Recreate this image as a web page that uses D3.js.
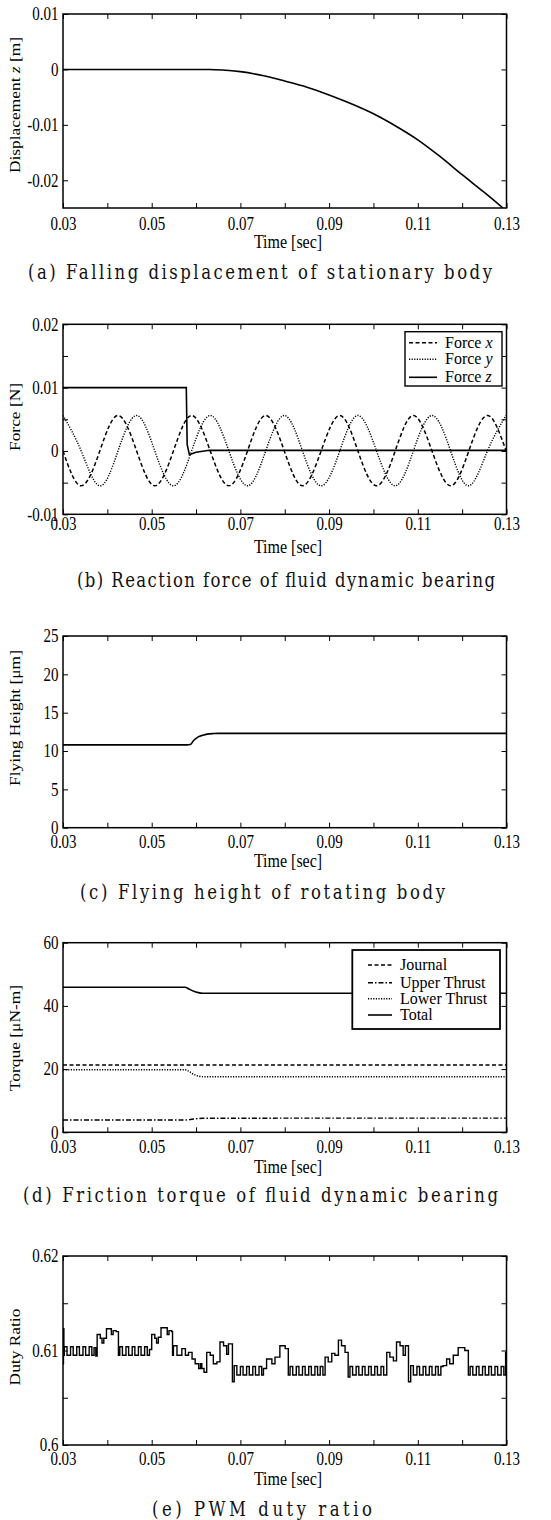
<!DOCTYPE html>
<html>
<head>
<meta charset="utf-8">
<script src="https://cdn.jsdelivr.net/npm/d3@7"></script>
<style>
  body { margin: 0; background: #fff; }
  svg { display: block; }
</style>
</head>
<body>
<div id="container"></div>
<script>
// Figure size and the vertical stretch the scanned figure shows on its text
const WIDTH = 551;
const HEIGHT = 1520;
const STRETCH = 1.2;
const SERIF = "'Liberation Serif', 'Times New Roman', serif";

// ---- Shared time axis ----
const xTicks = [0.03, 0.04, 0.05, 0.06, 0.07, 0.08, 0.09, 0.10, 0.11, 0.12, 0.13];
const xLabels = [0.03, 0.05, 0.07, 0.09, 0.11, 0.13];

// ---- (a) Falling displacement ----
const dispTime = [0.030, 0.040, 0.050, 0.060, 0.063, 0.066, 0.070, 0.075, 0.080, 0.085,
                  0.090, 0.095, 0.100, 0.105, 0.110, 0.115, 0.120, 0.125, 0.1292];
const dispZ = [0, 0, 0, 0, 0, -0.0001, -0.0004, -0.0011, -0.0021, -0.0032,
               -0.0046, -0.0062, -0.0080, -0.0102, -0.0127, -0.0157, -0.0190, -0.0222, -0.0250];
const dispTicks = [-0.02, -0.01, 0, 0.01];
const dispLabels = [-0.02, -0.01, 0, 0.01];

// ---- (b) Reaction force ----
const forceXTime = [0.0300, 0.0341, 0.0383, 0.0424, 0.0466, 0.0507, 0.0549, 0.0590, 0.0632,
                    0.0674, 0.0716, 0.0757, 0.0799, 0.0840, 0.0882, 0.0924, 0.0965, 0.1007,
                    0.1049, 0.1090, 0.1132, 0.1174, 0.1215, 0.1257, 0.1299];
const forceX = [0, -0.0055, 0, 0.0056, 0, -0.0055, 0, 0.0056, 0,
                -0.0055, 0, 0.0056, 0, -0.0055, 0, 0.0056, 0, -0.0055,
                0, 0.0056, 0, -0.0055, 0, 0.0056, 0];
const forceYTime = [0.0300, 0.0341, 0.0383, 0.0424, 0.0466, 0.0507, 0.0549, 0.0590, 0.0632,
                    0.0674, 0.0716, 0.0757, 0.0799, 0.0840, 0.0882, 0.0924, 0.0965, 0.1007,
                    0.1049, 0.1090, 0.1132, 0.1174, 0.1215, 0.1257, 0.1299];
const forceY = [0.0056, 0, -0.0055, 0, 0.0056, 0, -0.0055, 0, 0.0056,
                0, -0.0055, 0, 0.0056, 0, -0.0055, 0, 0.0056, 0,
                -0.0055, 0, 0.0056, 0, -0.0055, 0, 0.0056];
const forceZTime = [0.030, 0.0578, 0.0580, 0.0585, 0.0592, 0.0600, 0.0630, 0.130];
const forceZ = [0.0100, 0.0100, 0.0010, -0.0006, -0.0004, -0.0002, 0.0001, 0.0001];
const forceTicks = [-0.01, -0.005, 0, 0.005, 0.01, 0.015, 0.02];
const forceLabels = [-0.01, 0, 0.01, 0.02];
const forceNames = [['Force ', 'x'], ['Force ', 'y'], ['Force ', 'z']];

// ---- (c) Flying height ----
const heightTime = [0.030, 0.0580, 0.0587, 0.0595, 0.0605, 0.0615, 0.0625, 0.0640, 0.0650, 0.130];
const heightVal = [10.8, 10.8, 10.85, 11.4, 11.85, 12.05, 12.2, 12.28, 12.3, 12.3];
const heightTicks = [0, 5, 10, 15, 20, 25];

// ---- (d) Friction torque ----
const torqueTime = [0.030, 0.0575, 0.0585, 0.0595, 0.0605, 0.0615, 0.130];
const journal = [21.3, 21.3, 21.3, 21.3, 21.3, 21.3, 21.3];
const upperThrust = [3.9, 3.9, 4.0, 4.2, 4.35, 4.45, 4.5];
const lowerThrust = [19.8, 19.8, 19.2, 18.3, 17.8, 17.6, 17.6];
const totalTorque = [45.9, 45.9, 45.3, 44.6, 44.2, 44.0, 44.0];
const torqueTicks = [0, 20, 40, 60];
const torqueNames = [['Journal', ''], ['Upper Thrust', ''], ['Lower Thrust', ''], ['Total', '']];

// ---- (e) PWM duty ratio, [time, duty] steps ----
const pwmSteps = [
  [0.0300,0.6086],[0.0301,0.6123],[0.0302,0.6095],
  [0.0303,0.6104],[0.0309,0.6095],[0.0317,0.6104],[0.0323,0.6095],[0.0331,0.6104],[0.0337,0.6095],
  [0.0345,0.6104],[0.0351,0.6095],[0.0359,0.6104],[0.0365,0.6095],[0.0370,0.6103],[0.0374,0.6094],
  [0.0377,0.6117],[0.0384,0.6113],[0.0388,0.6108],[0.0392,0.6113],[0.0398,0.6123],[0.0409,0.6117],
  [0.0413,0.6121],[0.0420,0.6120],
  [0.0425,0.6095],[0.0428,0.6104],[0.0434,0.6095],[0.0442,0.6104],[0.0448,0.6095],[0.0456,0.6104],
  [0.0462,0.6095],[0.0470,0.6104],[0.0476,0.6095],[0.0484,0.6104],[0.0490,0.6095],[0.0495,0.6101],
  [0.0500,0.6117],[0.0507,0.6113],[0.0511,0.6108],[0.0515,0.6114],[0.0521,0.6124],[0.0535,0.6117],
  [0.0539,0.6121],[0.0545,0.6120],
  [0.0547,0.6095],[0.0549,0.6105],[0.0557,0.6095],[0.0568,0.6102],[0.0576,0.6095],[0.0583,0.6098],
  [0.0591,0.6091],[0.0598,0.6086],[0.0606,0.6081],[0.0610,0.6086],[0.0613,0.6081],[0.0618,0.6077],
  [0.0624,0.6098],[0.0632,0.6095],[0.0639,0.6086],[0.0647,0.6088],[0.0654,0.6109],[0.0662,0.6105],
  [0.0669,0.6096],[0.0673,0.6107],
  [0.0682,0.6067],[0.0686,0.6084],[0.0692,0.6074],[0.0700,0.6083],[0.0706,0.6074],[0.0714,0.6083],
  [0.0720,0.6074],[0.0728,0.6083],[0.0734,0.6074],[0.0742,0.6083],[0.0748,0.6074],
  [0.0752,0.6081],[0.0759,0.6091],[0.0771,0.6086],[0.0778,0.6093],[0.0789,0.6105],[0.0801,0.6102],
  [0.0808,0.6074],[0.0812,0.6083],[0.0818,0.6074],[0.0826,0.6083],[0.0832,0.6074],[0.0840,0.6083],
  [0.0846,0.6074],[0.0854,0.6083],[0.0860,0.6074],[0.0868,0.6083],[0.0874,0.6074],[0.0880,0.6083],
  [0.0886,0.6074],
  [0.0891,0.6093],[0.0898,0.6088],[0.0906,0.6097],[0.0913,0.6095],[0.0921,0.6111],[0.0928,0.6105],
  [0.0936,0.6098],
  [0.0943,0.6072],[0.0947,0.6083],[0.0953,0.6074],[0.0961,0.6083],[0.0967,0.6074],[0.0975,0.6083],
  [0.0981,0.6074],[0.0989,0.6083],[0.0995,0.6074],[0.1003,0.6083],[0.1009,0.6074],[0.1017,0.6083],
  [0.1023,0.6074],
  [0.1030,0.6098],[0.1037,0.6093],[0.1045,0.6089],[0.1052,0.6109],[0.1060,0.6105],[0.1067,0.6095],
  [0.1072,0.6105],
  [0.1079,0.6067],[0.1084,0.6084],[0.1090,0.6074],[0.1098,0.6083],[0.1104,0.6074],[0.1112,0.6083],
  [0.1118,0.6074],[0.1126,0.6083],[0.1132,0.6074],[0.1140,0.6083],[0.1146,0.6074],[0.1152,0.6083],
  [0.1157,0.6084],[0.1165,0.6091],[0.1172,0.6086],[0.1180,0.6095],[0.1191,0.6103],[0.1206,0.6100],
  [0.1214,0.6074],[0.1218,0.6083],[0.1224,0.6074],[0.1232,0.6083],[0.1238,0.6074],[0.1246,0.6083],
  [0.1252,0.6074],[0.1260,0.6083],[0.1266,0.6074],[0.1274,0.6083],[0.1280,0.6074],[0.1288,0.6083],
  [0.1294,0.6074],[0.1298,0.6098],[0.1300,0.6098]
];
const pwmTicks = [0.6, 0.605, 0.61, 0.615, 0.62];
const pwmLabels = [0.6, 0.61, 0.62];

const zip = (t, v) => t.map((d, i) => [d, v[i]]);

// Line styles
const SOLID = { dash: null, width: 1.6 };
const DASHED = { dash: '4,2.5', width: 1.5 };
const DOTTED = { dash: '1.2,1.4', width: 1.4 };
const DASHDOT = { dash: '5,2,1.5,2', width: 1.4 };

const panels = [
  { top: 14, bottom: 208, domain: [-0.025, 0.01], ticks: dispTicks, labels: dispLabels,
    xGap: 22, timeBase: 248, yTitle: [['Displacement ', ''], ['z', 'italic'], [' [m]', '']], yTitleY: 105,
    caption: '(a) Falling displacement of stationary body', cap: [28, 492, 279],
    series: [{ pts: zip(dispTime, dispZ), style: SOLID, curve: d3.curveMonotoneX }] },
  { top: 324.3, bottom: 514.3, domain: [-0.01, 0.02], ticks: forceTicks, labels: forceLabels,
    xGap: 16, timeBase: 553, yTitle: [['Force [N]', '']], yTitleY: 417,
    caption: '(b) Reaction force of fluid dynamic bearing', cap: [77, 495, 587],
    series: [
      { pts: zip(forceXTime, forceX), style: DASHED, curve: d3.curveNatural },
      { pts: zip(forceYTime, forceY), style: DOTTED, curve: d3.curveNatural },
      { pts: zip(forceZTime, forceZ), style: SOLID, curve: d3.curveLinear }],
    legend: { box: [405, 331.7, 502, 386], rows: [342.7, 359.3, 377.3], sample: [409, 437], textX: 445,
              names: forceNames, styles: [DASHED, DOTTED, SOLID], border: 1.4 } },
  { top: 636, bottom: 827.7, domain: [0, 25], ticks: heightTicks, labels: heightTicks,
    xGap: 20, timeBase: 866.5, yTitle: [['Flying Height [μm]', '']], yTitleY: 718,
    caption: '(c) Flying height of rotating body', cap: [80, 445, 899],
    series: [{ pts: zip(heightTime, heightVal), style: SOLID, curve: d3.curveMonotoneX }] },
  { top: 942.7, bottom: 1132.3, domain: [0, 60], ticks: torqueTicks, labels: torqueTicks,
    xGap: 21, timeBase: 1172.5, yTitle: [['Torque [μN-m]', '']], yTitleY: 1038,
    caption: '(d) Friction torque of fluid dynamic bearing', cap: [23, 498, 1202],
    series: [
      { pts: zip(torqueTime, journal), style: DASHED, curve: d3.curveMonotoneX },
      { pts: zip(torqueTime, upperThrust), style: DASHDOT, curve: d3.curveMonotoneX },
      { pts: zip(torqueTime, lowerThrust), style: DOTTED, curve: d3.curveMonotoneX },
      { pts: zip(torqueTime, totalTorque), style: SOLID, curve: d3.curveMonotoneX }],
    legend: { box: [352.3, 950, 500, 1029], rows: [965, 982.7, 998.7, 1015], sample: [368, 392], textX: 400,
              names: torqueNames, styles: [DASHED, DASHDOT, DOTTED, SOLID], border: 1.8 } },
  { top: 1256, bottom: 1445, domain: [0.6, 0.62], ticks: pwmTicks, labels: pwmLabels,
    xGap: 20, timeBase: 1485, yTitle: [['Duty Ratio', '']], yTitleY: 1347,
    caption: '(e) PWM duty ratio', cap: [152, 372, 1516],
    series: [{ pts: pwmSteps, style: { dash: null, width: 1.4 }, curve: d3.curveStepAfter }] }
];

const svg = d3.select('#container')
  .append('svg')
    .attr('width', WIDTH)
    .attr('height', HEIGHT);

const x = d3.scaleLinear().domain([0.03, 0.13]).range([63, 506.5]);

const TICK_FONT = 15;
const inList = (list, d) => list.some(v => Math.abs(v - d) < 1e-9);
const fmtTick = d => String(+d.toFixed(4));

function stretchTicks(g) {
  g.attr('font-family', SERIF).attr('font-size', TICK_FONT);
  g.select('.domain').remove();
  g.selectAll('.tick line').attr('stroke', '#000').attr('stroke-width', 1);
  g.selectAll('.tick text').each(function () {
    const t = d3.select(this);
    t.attr('y', (+t.attr('y') || 0) / STRETCH).attr('transform', `scale(1,${STRETCH})`);
  });
}

panels.forEach((p, idx) => {
  const y = d3.scaleLinear().domain(p.domain).range([p.bottom, p.top]);
  const g = svg.append('g');

  g.append('clipPath').attr('id', `clip${idx}`)
    .append('rect')
      .attr('x', x.range()[0]).attr('y', p.top)
      .attr('width', x.range()[1] - x.range()[0]).attr('height', p.bottom - p.top);

  // curves
  p.series.forEach(s => {
    g.append('path')
      .datum(s.pts)
      .attr('clip-path', `url(#clip${idx})`)
      .attr('fill', 'none')
      .attr('stroke', '#000')
      .attr('stroke-width', s.style.width)
      .attr('stroke-dasharray', s.style.dash)
      .attr('d', d3.line().x(d => x(d[0])).y(d => y(d[1])).curve(s.curve));
  });

  // axes, ticks pointing inward on all four sides
  g.append('g').attr('transform', `translate(0,${p.bottom})`)
    .call(d3.axisBottom(x).tickValues(xTicks).tickSizeInner(-5).tickSizeOuter(0)
      .tickPadding(p.xGap - 0.852 * TICK_FONT)
      .tickFormat(d => inList(xLabels, d) ? fmtTick(d) : ''))
    .call(stretchTicks);
  g.append('g').attr('transform', `translate(0,${p.top})`)
    .call(d3.axisTop(x).tickValues(xTicks).tickSizeInner(-5).tickSizeOuter(0).tickFormat(''))
    .call(stretchTicks);
  g.append('g').attr('transform', `translate(${x.range()[0]},0)`)
    .call(d3.axisLeft(y).tickValues(p.ticks).tickSizeInner(-5).tickSizeOuter(0).tickPadding(4.5)
      .tickFormat(d => inList(p.labels, d) ? fmtTick(d) : ''))
    .call(stretchTicks);
  g.append('g').attr('transform', `translate(${x.range()[1]},0)`)
    .call(d3.axisRight(y).tickValues(p.ticks).tickSizeInner(-5).tickSizeOuter(0).tickFormat(''))
    .call(stretchTicks);

  // frame
  g.append('rect')
    .attr('x', x.range()[0]).attr('y', p.top)
    .attr('width', x.range()[1] - x.range()[0]).attr('height', p.bottom - p.top)
    .attr('fill', 'none').attr('stroke', '#000').attr('stroke-width', 1.5);

  // y title
  const yt = g.append('text')
    .attr('transform', `translate(20,${p.yTitleY}) rotate(-90) scale(${STRETCH},1)`)
    .attr('text-anchor', 'middle')
    .attr('font-family', SERIF)
    .attr('font-size', 14.5)
    .attr('fill', '#000');
  p.yTitle.forEach(([txt, st]) => yt.append('tspan').attr('font-style', st || null).text(txt));

  // x title
  g.append('text')
    .attr('transform', `translate(288,${p.timeBase}) scale(1,${STRETCH})`)
    .attr('text-anchor', 'middle')
    .attr('font-family', SERIF)
    .attr('font-size', 16)
    .attr('fill', '#000')
    .text('Time [sec]');

  // legend
  if (p.legend) {
    const L = p.legend;
    g.append('rect')
      .attr('x', L.box[0]).attr('y', L.box[1])
      .attr('width', L.box[2] - L.box[0]).attr('height', L.box[3] - L.box[1])
      .attr('fill', '#fff').attr('stroke', '#000').attr('stroke-width', L.border);
    L.rows.forEach((ry, i) => {
      g.append('line')
        .attr('x1', L.sample[0]).attr('x2', L.sample[1])
        .attr('y1', ry).attr('y2', ry)
        .attr('stroke', '#000')
        .attr('stroke-width', L.styles[i].width)
        .attr('stroke-dasharray', L.styles[i].dash);
      const t = g.append('text')
        .attr('x', L.textX).attr('y', ry + 5)
        .attr('font-family', SERIF)
        .attr('font-size', 16)
        .attr('fill', '#000');
      t.append('tspan').text(L.names[i][0]);
      if (L.names[i][1]) t.append('tspan').attr('font-style', 'italic').text(L.names[i][1]);
    });
  }

  // caption
  g.append('text')
    .attr('transform', `translate(${p.cap[0]},${p.cap[2]}) scale(1,${STRETCH})`)
    .attr('font-family', "'DejaVu Serif', serif")
    .attr('font-size', 16.5)
    .attr('fill', '#111')
    .attr('textLength', p.cap[1] - p.cap[0])
    .attr('lengthAdjust', 'spacing')
    .text(p.caption);
});
</script>
</body>
</html>
